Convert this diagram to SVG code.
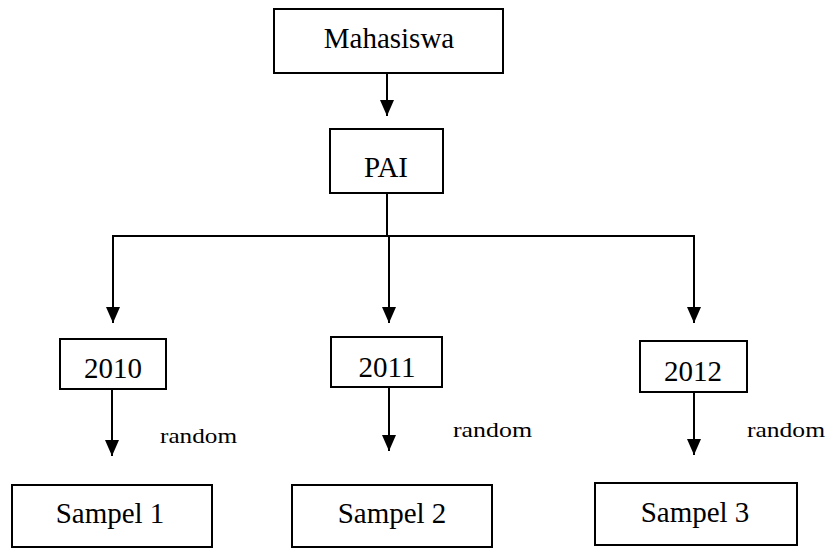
<svg xmlns="http://www.w3.org/2000/svg" width="827" height="548" viewBox="0 0 827 548">
<defs>
<marker id="ah" markerWidth="16" markerHeight="14" refX="16" refY="7" orient="auto-start-reverse" markerUnits="userSpaceOnUse" viewBox="0 0 16 14">
<path d="M0,0 L16,7 L0,14 Z" fill="#000"/>
</marker>
</defs>
<style>
.box{fill:#fff;stroke:#000;stroke-width:2}
.lbl{font-family:"Liberation Serif","Times New Roman",serif;font-size:29px;fill:#000;text-anchor:middle}
.rnd{font-family:"Liberation Serif","Times New Roman",serif;font-size:22px;fill:#000}
.con{fill:none;stroke:#000;stroke-width:2}
</style>
<rect width="827" height="548" fill="#fff"/>
<g id="connectors">
<line class="con" x1="387" y1="73" x2="387" y2="116" marker-end="url(#ah)"/>
<line class="con" x1="387" y1="193" x2="387" y2="236"/>
<polyline class="con" points="113,323 113,236 694,236 694,323" marker-start="url(#ah)" marker-end="url(#ah)"/>
<line class="con" x1="389" y1="236" x2="389" y2="323" marker-end="url(#ah)"/>
<line class="con" x1="112" y1="389" x2="112" y2="456" marker-end="url(#ah)"/>
<line class="con" x1="389" y1="387" x2="389" y2="451" marker-end="url(#ah)"/>
<line class="con" x1="694" y1="392" x2="694" y2="455" marker-end="url(#ah)"/>
</g>
<g id="mahasiswa">
<rect class="box" x="274" y="9" width="229" height="64"/>
<text class="lbl" x="389" y="48">Mahasiswa</text>
</g>
<g id="pai">
<rect class="box" x="330" y="129" width="113" height="64"/>
<text class="lbl" x="386" y="177">PAI</text>
</g>
<g id="y2010">
<rect class="box" x="60" y="339" width="106" height="50"/>
<text class="lbl" x="113" y="378">2010</text>
</g>
<g id="y2011">
<rect class="box" x="331" y="337" width="111" height="50"/>
<text class="lbl" x="387" y="377">2011</text>
</g>
<g id="y2012">
<rect class="box" x="640" y="341" width="107" height="51"/>
<text class="lbl" x="693" y="381">2012</text>
</g>
<g id="random-labels">
<text class="rnd" x="160" y="443" textLength="77" lengthAdjust="spacingAndGlyphs">random</text>
<text class="rnd" x="453" y="437" textLength="79" lengthAdjust="spacingAndGlyphs">random</text>
<text class="rnd" x="747" y="437" textLength="78" lengthAdjust="spacingAndGlyphs">random</text>
</g>
<g id="sampel1">
<rect class="box" x="12" y="485" width="200" height="62"/>
<text class="lbl" x="110" y="523">Sampel 1</text>
</g>
<g id="sampel2">
<rect class="box" x="292" y="485" width="200" height="62"/>
<text class="lbl" x="392" y="523">Sampel 2</text>
</g>
<g id="sampel3">
<rect class="box" x="595" y="483" width="202" height="62"/>
<text class="lbl" x="695" y="522">Sampel 3</text>
</g>
</svg>
